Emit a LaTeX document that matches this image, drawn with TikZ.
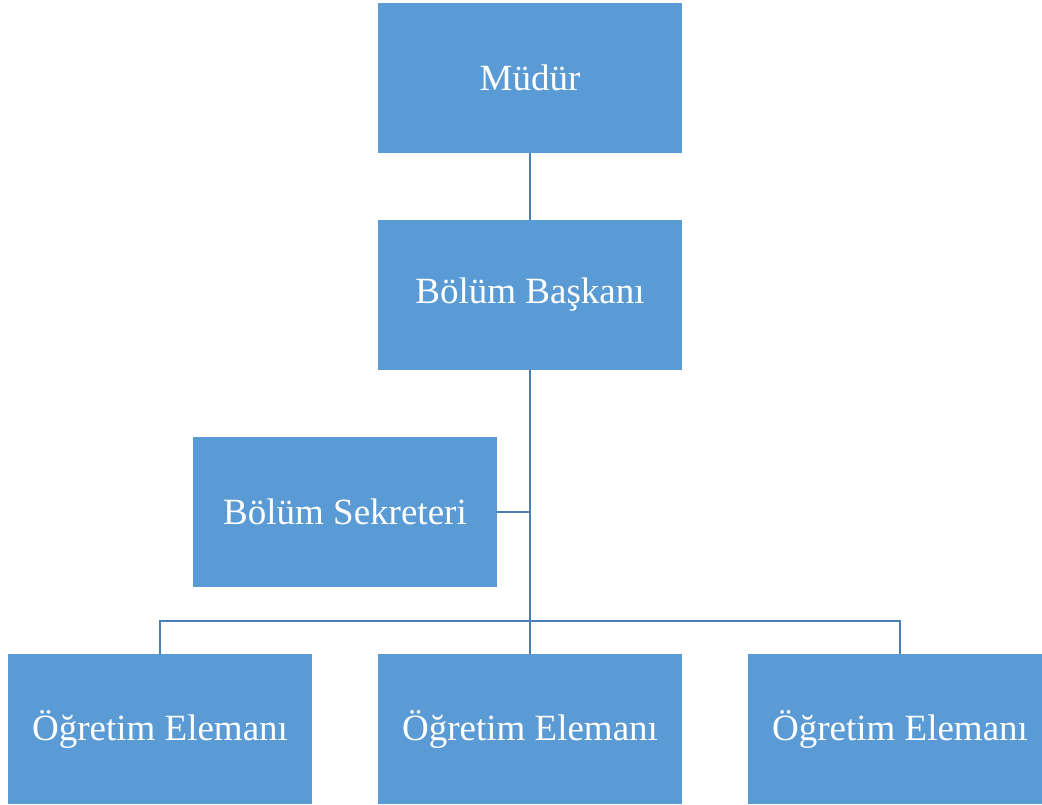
\documentclass[tikz,border=0pt]{standalone}
\usepackage{fontspec}
\setmainfont{Liberation Serif}
\definecolor{boxblue}{HTML}{5B9BD5}
\definecolor{lineblue}{HTML}{4A7EBB}
\begin{document}
\begin{tikzpicture}[x=0.5pt,y=-0.5pt,
  box/.style={rectangle, fill=boxblue, draw=none, minimum width=152pt, minimum height=75pt, inner sep=0pt, text=white, font=\fontsize{18.5}{22}\selectfont},
  conn/.style={draw=lineblue, line width=1.3pt}]
\useasboundingbox (0,0) rectangle (1042,804);
\clip (0,0) rectangle (1042,804);
\node[box] (m) at (530,78) {Müdür};
\node[box] (b) at (530,295) {Bölüm Başkanı};
\node[box] (s) at (345,512) {Bölüm Sekreteri};
\node[box] (e1) at (160,729) {Öğretim Elemanı};
\node[box] (e2) at (530,729) {Öğretim Elemanı};
\node[box] (e3) at (900,729) {Öğretim Elemanı};
\coordinate (j) at (530,621);
\coordinate (k) at (530,512);
\draw[conn] (m.south) -- (b.north);
\draw[conn] (b.south) -- (j);
\draw[conn] (s.east) -- (k);
\draw[conn] (j) -| (e1.north);
\draw[conn] (j) -| (e3.north);
\draw[conn] (j) -- (e2.north);
\end{tikzpicture}
\end{document}
